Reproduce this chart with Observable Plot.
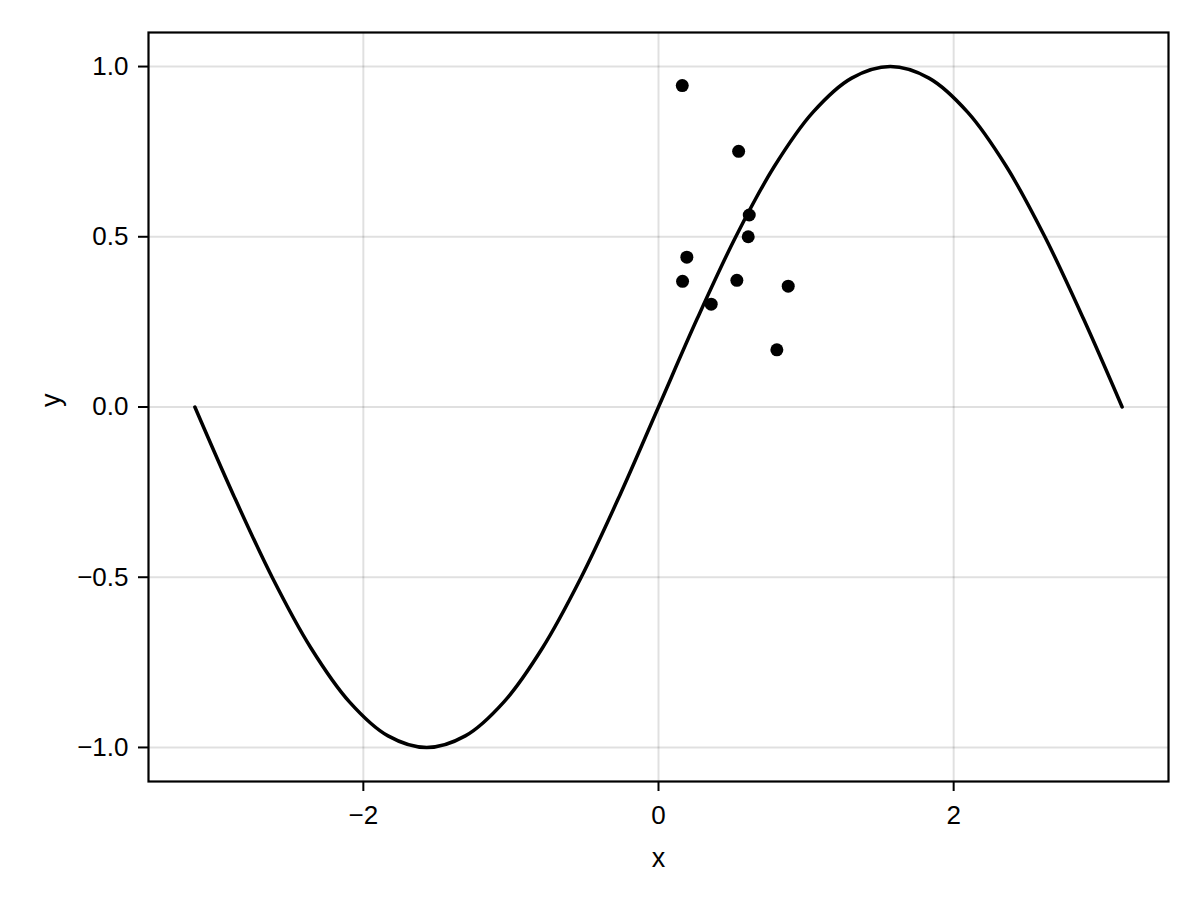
<!DOCTYPE html>
<html>
<head>
<meta charset="utf-8">
<script src="https://cdn.jsdelivr.net/npm/d3@7"></script>
<script src="https://cdn.jsdelivr.net/npm/@observablehq/plot@0.6"></script>
<style>
  html, body { margin: 0; padding: 0; background: #fff; }
  #chart svg { display: block; }
</style>
</head>
<body>
<div id="chart"></div>
<script>
// Curve samples (every 15°)
const curveX = [-3.1416, -2.8798, -2.618, -2.3562, -2.0944, -1.8326, -1.5708, -1.309, -1.0472, -0.7854, -0.5236, -0.2618, 0, 0.2618, 0.5236, 0.7854, 1.0472, 1.309, 1.5708, 1.8326, 2.0944, 2.3562, 2.618, 2.8798, 3.1416];
const curveY = [0, -0.259, -0.5, -0.707, -0.866, -0.966, -1, -0.966, -0.866, -0.707, -0.5, -0.259, 0, 0.259, 0.5, 0.707, 0.866, 0.966, 1, 0.966, 0.866, 0.707, 0.5, 0.259, 0];

// Scatter points
const pointX = [0.161, 0.543, 0.615, 0.608, 0.192, 0.163, 0.531, 0.357, 0.879, 0.802];
const pointY = [0.944, 0.751, 0.564, 0.500, 0.440, 0.369, 0.372, 0.302, 0.355, 0.168];

const xTicks = [-2, 0, 2];
const yTicks = [-1.0, -0.5, 0.0, 0.5, 1.0];

const curve = curveX.map((x, i) => ({x, y: curveY[i]}));
const points = pointX.map((x, i) => ({x, y: pointY[i]}));

const font = "'Liberation Sans', Arial, sans-serif";

const chart = Plot.plot({
  width: 1200,
  height: 900,
  marginLeft: 148,
  marginRight: 32,
  marginTop: 32,
  marginBottom: 119,
  style: {fontFamily: font, fontSize: "26px", color: "#000", background: "#fff"},
  x: {domain: [-3.4558, 3.4558]},
  y: {domain: [-1.1, 1.1]},
  marks: [
    Plot.gridX(xTicks, {stroke: "#000", strokeOpacity: 0.12, strokeWidth: 2}),
    Plot.gridY(yTicks, {stroke: "#000", strokeOpacity: 0.12, strokeWidth: 2}),
    Plot.axisX(xTicks, {
      tickSize: 10, tickPadding: 14, strokeWidth: 2, fontSize: 26,
      tickFormat: d => d3.format("d")(d).replace("-", "\u2212"),
      label: null
    }),
    Plot.axisY(yTicks, {
      tickSize: 10, tickPadding: 10, strokeWidth: 2, fontSize: 26,
      tickFormat: d => d3.format(".1f")(d).replace("-", "\u2212"),
      label: null
    }),
    Plot.text(["x"], {frameAnchor: "bottom", dy: 85, lineAnchor: "bottom", fontSize: 27, fill: "#000"}),
    Plot.text(["y"], {frameAnchor: "left", dx: -97, rotate: -90, lineAnchor: "middle", fontSize: 27, fill: "#000"}),
    Plot.line(curve, {x: "x", y: "y", stroke: "#000", strokeWidth: 3.5, curve: "catmull-rom"}),
    Plot.dot(points, {x: "x", y: "y", r: 6.5, fill: "#000", stroke: "none"}),
    Plot.frame({stroke: "#000", strokeWidth: 2.2})
  ]
});
document.getElementById("chart").appendChild(chart);
</script>
</body>
</html>
